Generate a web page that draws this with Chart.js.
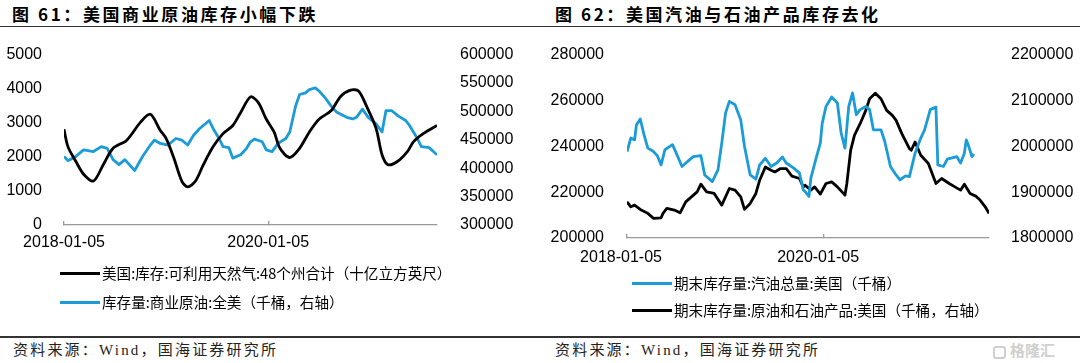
<!DOCTYPE html>
<html>
<head>
<meta charset="utf-8">
<script src="https://cdn.jsdelivr.net/npm/chart.js@4.4.1/dist/chart.umd.min.js"></script>
<style>
body { margin: 0; background: #fff; }
#page { position: relative; width: 1080px; height: 363px; overflow: hidden; font-family: "Noto Sans CJK SC", sans-serif; color: #000; }
.title { position: absolute; top: 3px; font-size: 17px; font-weight: 700; letter-spacing: 2.6px; line-height: 22px; white-space: nowrap; }
.rule { position: absolute; left: 0; width: 1080px; height: 1.5px; background: #333; }
.box { position: absolute; }
.leg { position: absolute; display: flex; align-items: center; font-size: 14.6px; line-height: 18px; white-space: nowrap; }
.leg i { display: inline-block; width: 40px; height: 3px; margin-right: 2px; }
.src { position: absolute; top: 340px; font-family: "Liberation Serif", "Noto Sans CJK SC", serif; font-size: 15px; letter-spacing: 2.2px; line-height: 20px; white-space: nowrap; color: #222; }
.mark { position: absolute; left: 993px; top: 340px; font-size: 15px; font-weight: 700; color: #cfcfcf; line-height: 20px; }
.mark b { display: inline-block; width: 13px; height: 13px; border: 2px solid #cfcfcf; border-radius: 3px; margin-right: 4px; vertical-align: -3px; box-sizing: border-box; }
</style>
</head>
<body>
<div id="page">
  <div class="title" style="left:12px">图 61：美国商业原油库存小幅下跌</div>
  <div class="title" style="left:555px">图 62：美国汽油与石油产品库存去化</div>
  <div class="rule" style="top:25.5px"></div>

  <div class="box" style="left:0;top:30px"><canvas id="chartLeft" width="540" height="235"></canvas></div>
  <div class="box" style="left:540px;top:30px"><canvas id="chartRight" width="540" height="245"></canvas></div>

  <div class="leg" style="left:60px;top:264px"><i style="background:#000"></i>美国:库存:可利用天然气:48个州合计（十亿立方英尺）</div>
  <div class="leg" style="left:60px;top:293px"><i style="background:#1b9bd7"></i>库存量:商业原油:全美（千桶，右轴）</div>
  <div class="leg" style="left:632px;top:274px"><i style="background:#1b9bd7"></i>期末库存量:汽油总量:美国（千桶）</div>
  <div class="leg" style="left:632px;top:301px"><i style="background:#000"></i>期末库存量:原油和石油产品:美国（千桶，右轴）</div>

  <div class="rule" style="top:336px"></div>
  <div class="src" style="left:13px">资料来源：Wind，国海证券研究所</div>
  <div class="src" style="left:555px">资料来源：Wind，国海证券研究所</div>
  <div class="mark"><b></b>格隆汇</div>
</div>
<script>
// x values are weeks counted from 2018-01-05
const tickWeeks = [0, 104];
const tickLabels = ['2018-01-05', '2020-01-05'];

// 图61
const gasWeeks = [0, 2, 6, 10, 15, 20, 25, 32, 39, 44, 49, 52, 56, 60, 63, 67, 71, 76, 81, 86, 90, 95, 99, 103, 107, 110, 115, 120, 125, 130, 136, 141, 146, 150, 154, 159, 162, 165, 170, 175, 178, 183, 190];
const gasValues = [2810, 2300, 1870, 1490, 1290, 1770, 2250, 2490, 3020, 3250, 2780, 2540, 1960, 1290, 1120, 1290, 1770, 2300, 2680, 2920, 3300, 3760, 3590, 3110, 2730, 2250, 1980, 2250, 2730, 3110, 3350, 3780, 3960, 3930, 3500, 2830, 2060, 1770, 1870, 2160, 2440, 2680, 2920];

const crudeWeeks = [0, 2, 6, 10, 15, 19, 22, 25, 28, 31, 36, 40, 44, 46, 49, 53, 57, 60, 63, 66, 69, 74, 76, 79, 81, 84, 86, 90, 93, 95, 97, 101, 103, 106, 109, 113, 115, 118, 120, 123, 125, 128, 130, 133, 136, 139, 144, 147, 149, 152, 155, 159, 162, 164, 167, 170, 174, 176, 180, 182, 186, 190];
const crudeValues = [420700, 413300, 420700, 432200, 429300, 437900, 435000, 415000, 406400, 415000, 396000, 420700, 440800, 449500, 443600, 440800, 452300, 449500, 440800, 458100, 469500, 484000, 469500, 452300, 437900, 436200, 417700, 423600, 435000, 446500, 451200, 446500, 432200, 429300, 443600, 452300, 463800, 509800, 529800, 532700, 538400, 541400, 535700, 524100, 509800, 498300, 489600, 486700, 489600, 503900, 489600, 478100, 463800, 501200, 501200, 492600, 484000, 475300, 452300, 437900, 436200, 423600];

// 图62
const gasolineWeeks = [0, 2, 4, 5, 7, 9, 11, 14, 16, 18, 20, 24, 26, 29, 32, 35, 39, 41, 45, 48, 50, 52, 54, 57, 60, 62, 65, 68, 70, 73, 76, 79, 82, 84, 88, 91, 93, 94, 96, 97, 100, 102, 103, 105, 108, 111, 113, 115, 117, 119, 121, 123, 126, 128, 130, 134, 136, 139, 142, 144, 147, 149, 152, 155, 157, 160, 163, 164, 167, 169, 174, 176, 178, 179, 180, 182, 183];
const gasolineValues = [237700, 243600, 242800, 249400, 251900, 245000, 239200, 237700, 235900, 231900, 238500, 240700, 237000, 231200, 233400, 235500, 235900, 227500, 224600, 229700, 241400, 254500, 259600, 258100, 251600, 239900, 227500, 225700, 231900, 234800, 231200, 232700, 235300, 232700, 230500, 228300, 221000, 220200, 218100, 226100, 235500, 241400, 250000, 257400, 261500, 258900, 245800, 239200, 257400, 263300, 253800, 256000, 257400, 256000, 247200, 247200, 242100, 231200, 227500, 225400, 227100, 226800, 237000, 243600, 247200, 256000, 257100, 231900, 231200, 234400, 235500, 232700, 237000, 242800, 240700, 235500, 236700];

const totalWeeks = [0, 2, 4, 7, 11, 14, 18, 19, 21, 25, 28, 31, 34, 37, 39, 42, 46, 50, 54, 57, 60, 62, 65, 68, 70, 73, 76, 78, 81, 84, 87, 91, 93, 94, 97, 99, 102, 105, 108, 111, 115, 116, 118, 120, 123, 126, 128, 131, 134, 137, 140, 142, 145, 149, 150, 152, 155, 159, 162, 163, 166, 170, 173, 176, 178, 181, 184, 186, 189, 191];
const totalValues = [1878900, 1868000, 1871700, 1862400, 1853700, 1842800, 1844100, 1853700, 1864600, 1860900, 1855000, 1878900, 1889800, 1900700, 1917400, 1900700, 1897200, 1871700, 1908000, 1904400, 1889800, 1862400, 1875400, 1897200, 1926100, 1955000, 1947800, 1944100, 1951500, 1951500, 1934800, 1929800, 1911500, 1915200, 1904400, 1911500, 1895700, 1918900, 1922400, 1911500, 1893500, 1918900, 1991300, 2023900, 2049300, 2078300, 2103700, 2115900, 2103700, 2078300, 2067400, 2056500, 2027600, 1995000, 1991300, 2009400, 1980400, 1962400, 1929800, 1918900, 1929800, 1918900, 1911500, 1904400, 1917400, 1897200, 1891300, 1884100, 1868000, 1853700];

const BLUE = '#1b9bd7';
const tickFont = { family: 'Liberation Sans, Arial, sans-serif', size: 16 };

const pts = (xs, ys) => xs.map((x, i) => ({ x: x, y: ys[i] }));

function line(data, color, axis, tension) {
    return {
        data: data, yAxisID: axis, borderColor: color, borderWidth: 2.8,
        pointRadius: 0, tension: tension, fill: false, borderJoinStyle: 'round'
    };
}

function xAxis(max, height, pad, offset) {
    return {
        type: 'linear', min: 0, max: max,
        afterBuildTicks: s => { s.ticks = tickWeeks.map(v => ({ value: v })); },
        afterFit: s => { s.height = height; },
        grid: { display: true, drawOnChartArea: false, drawTicks: true, tickLength: -4, color: '#999', lineWidth: 1.3 },
        border: { display: true, color: '#999', width: 1.3 },
        ticks: {
            autoSkip: false, maxRotation: 0, padding: pad, labelOffset: offset, color: '#000', font: tickFont,
            callback: v => tickLabels[tickWeeks.indexOf(v)] ?? ''
        }
    };
}

function yAxis(pos, min, max, step, width, pad) {
    return {
        position: pos, min: min, max: max,
        afterFit: s => { s.width = width; },
        grid: { display: false }, border: { display: false },
        ticks: { stepSize: step, padding: pad, color: '#000', font: tickFont, callback: v => String(v) }
    };
}

new Chart(document.getElementById('chartLeft'), {
    type: 'line',
    data: {
        datasets: [
            line(pts(gasWeeks, gasValues), '#000', 'y', 0.3),
            line(pts(crudeWeeks, crudeValues), BLUE, 'y1', 0)
        ]
    },
    options: {
        responsive: false, animation: false,
        layout: { padding: { top: 21, left: 0, right: 0, bottom: 0 } },
        plugins: { legend: { display: false }, tooltip: { enabled: false } },
        scales: {
            x: xAxis(190, 40, 12.4, 0),
            y: yAxis('left', 0, 5000, 1000, 64, 14),
            y1: yAxis('right', 300000, 600000, 50000, 103, 15)
        }
    }
});

new Chart(document.getElementById('chartRight'), {
    type: 'line',
    data: {
        datasets: [
            line(pts(gasolineWeeks, gasolineValues), BLUE, 'y', 0),
            line(pts(totalWeeks, totalValues), '#000', 'y1', 0)
        ]
    },
    options: {
        responsive: false, animation: false,
        layout: { padding: { top: 24, left: 0, right: 0, bottom: 0 } },
        plugins: { legend: { display: false }, tooltip: { enabled: false } },
        scales: {
            x: xAxis(191, 37, 14.4, -6),
            y: yAxis('left', 200000, 280000, 20000, 87, 15),
            y1: yAxis('right', 1800000, 2200000, 100000, 91, 14)
        }
    }
});
</script>
</body>
</html>
